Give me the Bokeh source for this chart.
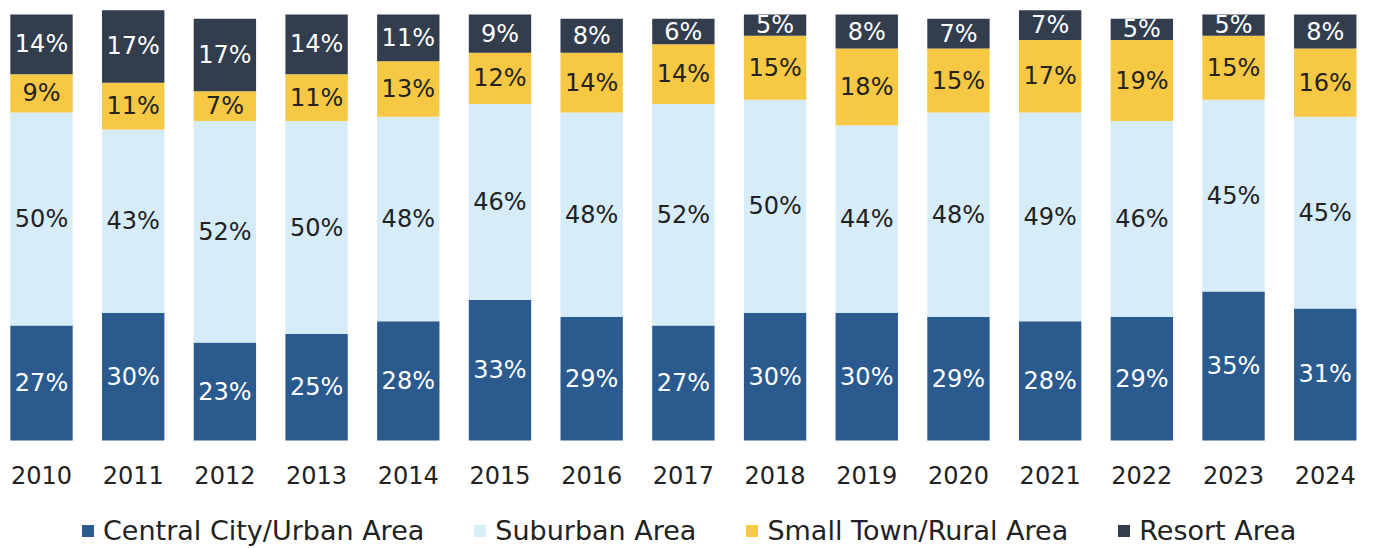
from bokeh.plotting import figure
from bokeh.models import ColumnDataSource, Range1d, Legend
from bokeh.core.properties import value
from bokeh.embed import file_html
from bokeh.resources import INLINE

years = [2010, 2011, 2012, 2013, 2014, 2015, 2016, 2017, 2018, 2019, 2020, 2021, 2022, 2023, 2024]
urban = [27, 30, 23, 25, 28, 33, 29, 27, 30, 30, 29, 28, 29, 35, 31]
suburban = [50, 43, 52, 50, 48, 46, 48, 52, 50, 44, 48, 49, 46, 45, 45]
small_town = [9, 11, 7, 11, 13, 12, 14, 14, 15, 18, 15, 17, 19, 15, 16]
resort = [14, 17, 17, 14, 11, 9, 8, 6, 5, 8, 7, 7, 5, 5, 8]
year_labels = [str(y) for y in years]

series_names = ["Central City/Urban Area", "Suburban Area", "Small Town/Rural Area", "Resort Area"]
series_keys = ["urban", "suburban", "small", "resort"]
colors = ["#2a5a8e", "#d6ecf8", "#f6c844", "#323d4d"]
text_colors = ["#ffffff", "#222222", "#222222", "#ffffff"]

FONT = "DejaVu Sans"

data = dict(year=years, urban=urban, suburban=suburban, small=small_town, resort=resort)
source = ColumnDataSource(data)

# frame covers bars, year labels and legend area
p = figure(width=1366, height=548,
           output_backend="svg", toolbar_location=None,
           x_range=Range1d(2009.64, 2024.45), y_range=Range1d(-25.35, 101.41),
           min_border_left=8, min_border_right=0, min_border_top=8, min_border_bottom=0,
           outline_line_color=None)

renderers = p.vbar_stack(series_keys, x="year", width=0.68, color=colors, source=source,
                         line_color=None)

# value labels centered in each segment
for i, key in enumerate(series_keys):
    mids = []
    texts = []
    for j in range(len(years)):
        base = sum(data[k][j] for k in series_keys[:i])
        v = data[key][j]
        mids.append(base + v / 2.0)
        texts.append(f"{v}%")
    src = ColumnDataSource(dict(x=years, y=mids, t=texts))
    p.text(x="x", y="y", text="t", source=src, text_align="center", text_baseline="middle",
           text_font=value(FONT), text_font_size="24px", text_color=text_colors[i])

# category (year) labels under the bars
ysrc = ColumnDataSource(dict(x=years, y=[-8.0] * len(years), t=year_labels))
p.text(x="x", y="y", text="t", source=ysrc, text_align="center", text_baseline="middle",
       text_font=value(FONT), text_font_size="24px", text_color="#222222")

p.xgrid.visible = False
p.ygrid.visible = False
p.xaxis.visible = False
p.yaxis.visible = False

legend = Legend(items=[(n, [r]) for n, r in zip(series_names, renderers)],
                orientation="horizontal", location=(72, 2),
                label_text_font=FONT, label_text_font_size="27px", label_text_color="#222222",
                glyph_width=15, glyph_height=15, label_standoff=8, spacing=48,
                border_line_color=None, background_fill_alpha=0, padding=0, margin=0)
p.add_layout(legend, "center")

open("out.html", "w").write(file_html(p, INLINE))
